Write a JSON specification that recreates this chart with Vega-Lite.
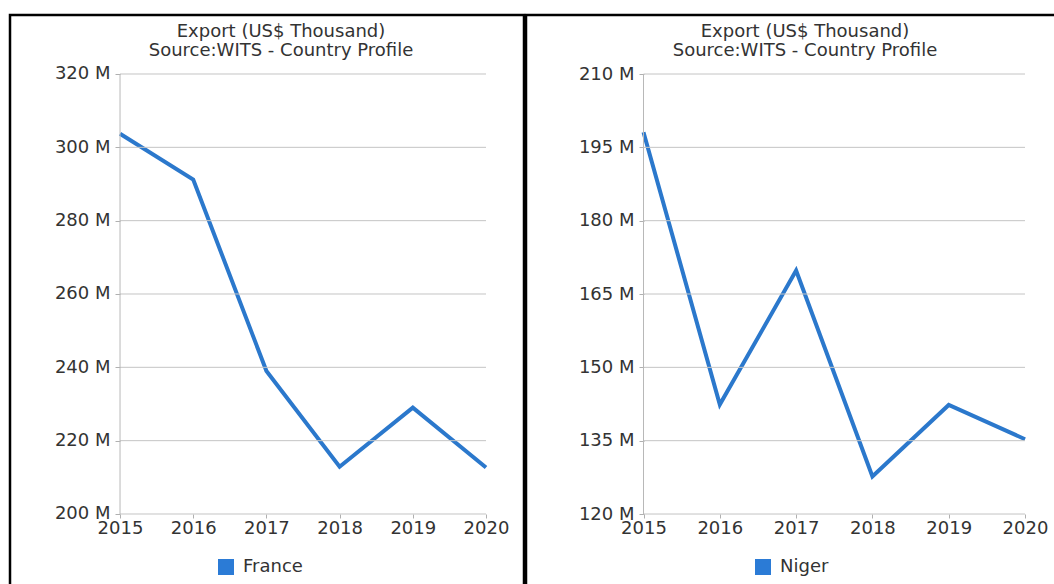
{
  "$schema": "https://vega.github.io/schema/vega-lite/v6.json",
  "background": "white",
  "padding": {"left": 8, "top": 13, "right": 0, "bottom": 0},
  "spacing": -3,
  "resolve": {"scale": {"color": "independent"}, "legend": {"color": "independent"}},
  "config": {
    "font": "DejaVu Sans",
    "view": {"stroke": "#000000", "strokeWidth": 2.5}
  },
  "datasets": {
    "france": [
      {"country": "France", "year": 2015, "value": 303.7},
      {"country": "France", "year": 2016, "value": 291.2},
      {"country": "France", "year": 2017, "value": 239.0},
      {"country": "France", "year": 2018, "value": 212.9},
      {"country": "France", "year": 2019, "value": 229.0},
      {"country": "France", "year": 2020, "value": 212.7}
    ],
    "niger": [
      {"country": "Niger", "year": 2015, "value": 198.1},
      {"country": "Niger", "year": 2016, "value": 142.4},
      {"country": "Niger", "year": 2017, "value": 169.8},
      {"country": "Niger", "year": 2018, "value": 127.7},
      {"country": "Niger", "year": 2019, "value": 142.3},
      {"country": "Niger", "year": 2020, "value": 135.3}
    ],
    "gridL": [{"v": 200}, {"v": 220}, {"v": 240}, {"v": 260}, {"v": 280}, {"v": 300}, {"v": 320}],
    "gridR": [{"v": 120}, {"v": 135}, {"v": 150}, {"v": 165}, {"v": 180}, {"v": 195}, {"v": 210}]
  },
  "hconcat": [
    {
      "width": 514,
      "height": 590,
      "title": {
        "text": ["Export (US$ Thousand)", "Source:WITS - Country Profile"],
        "offset": -45,
        "dx": 14,
        "fontSize": 18,
        "fontWeight": "normal",
        "color": "#333333",
        "lineHeight": 19.5
      },
      "layer": [
        {
          "data": {"name": "france"},
          "mark": {"type": "line", "strokeWidth": 4},
          "encoding": {
            "x": {
              "field": "year", "type": "quantitative", "title": null,
              "scale": {"domain": [2013.497, 2020.519], "nice": false, "zero": false},
              "axis": {"values": [2015, 2016, 2017, 2018, 2019, 2020], "format": "d", "offset": -91, "domain": false, "grid": false, "tickSize": 4, "tickColor": "#b0b0b0", "labelFontSize": 18, "labelColor": "#333333", "labelPadding": 1, "title": null}
            },
            "y": {
              "field": "value", "type": "quantitative", "title": null,
              "scale": {"domain": [175.18, 336.09], "nice": false, "zero": false},
              "axis": {"values": [200, 220, 240, 260, 280, 300, 320], "labelExpr": "datum.value + ' M'", "offset": -110, "domain": false, "grid": false, "tickSize": 5, "tickColor": "#b0b0b0", "labelFontSize": 18, "labelColor": "#333333", "labelPadding": 5, "title": null}
            },
            "color": {
              "field": "country", "type": "nominal",
              "scale": {"range": ["#2b78cc"]},
              "legend": {"orient": "none", "legendX": 207, "legendY": 543, "title": null, "symbolType": "square", "symbolSize": 256, "symbolFillColor": "#2b7bd6", "symbolStrokeWidth": 0, "labelFontSize": 18, "labelColor": "#333333", "labelOffset": 8}
            }
          }
        },
        {
          "data": {"name": "gridL"},
          "mark": {"type": "rule", "color": "#c4c4c4", "strokeWidth": 1},
          "encoding": {
            "y": {"field": "v", "type": "quantitative", "title": null},
            "x": {"datum": 2015, "type": "quantitative"},
            "x2": {"datum": 2020}
          }
        },
        {
          "data": {"values": [{}]},
          "mark": {"type": "rule", "color": "#b8b8b8", "strokeWidth": 1},
          "encoding": {
            "x": {"datum": 2015, "type": "quantitative"},
            "y": {"datum": 200, "type": "quantitative"},
            "y2": {"datum": 320}
          }
        }
      ]
    },
    {
      "width": 540,
      "height": 590,
      "title": {
        "text": ["Export (US$ Thousand)", "Source:WITS - Country Profile"],
        "offset": -45,
        "dx": 9,
        "fontSize": 18,
        "fontWeight": "normal",
        "color": "#333333",
        "lineHeight": 19.5
      },
      "layer": [
        {
          "data": {"name": "niger"},
          "mark": {"type": "line", "strokeWidth": 4},
          "encoding": {
            "x": {
              "field": "year", "type": "quantitative", "title": null,
              "scale": {"domain": [2013.46, 2020.537], "nice": false, "zero": false},
              "axis": {"values": [2015, 2016, 2017, 2018, 2019, 2020], "format": "d", "offset": -91, "domain": false, "grid": false, "tickSize": 4, "tickColor": "#b0b0b0", "labelFontSize": 18, "labelColor": "#333333", "labelPadding": 1, "title": null}
            },
            "y": {
              "field": "value", "type": "quantitative", "title": null,
              "scale": {"domain": [101.39, 222.07], "nice": false, "zero": false},
              "axis": {"values": [120, 135, 150, 165, 180, 195, 210], "labelExpr": "datum.value + ' M'", "offset": -118, "domain": false, "grid": false, "tickSize": 5, "tickColor": "#b0b0b0", "labelFontSize": 18, "labelColor": "#333333", "labelPadding": 5, "title": null}
            },
            "color": {
              "field": "country", "type": "nominal",
              "scale": {"range": ["#2b78cc"]},
              "legend": {"orient": "none", "legendX": 228, "legendY": 543, "title": null, "symbolType": "square", "symbolSize": 256, "symbolFillColor": "#2b7bd6", "symbolStrokeWidth": 0, "labelFontSize": 18, "labelColor": "#333333", "labelOffset": 8}
            }
          }
        },
        {
          "data": {"name": "gridR"},
          "mark": {"type": "rule", "color": "#c4c4c4", "strokeWidth": 1},
          "encoding": {
            "y": {"field": "v", "type": "quantitative", "title": null},
            "x": {"datum": 2015, "type": "quantitative"},
            "x2": {"datum": 2020}
          }
        },
        {
          "data": {"values": [{}]},
          "mark": {"type": "rule", "color": "#b8b8b8", "strokeWidth": 1},
          "encoding": {
            "x": {"datum": 2015, "type": "quantitative"},
            "y": {"datum": 120, "type": "quantitative"},
            "y2": {"datum": 210}
          }
        }
      ]
    }
  ]
}
